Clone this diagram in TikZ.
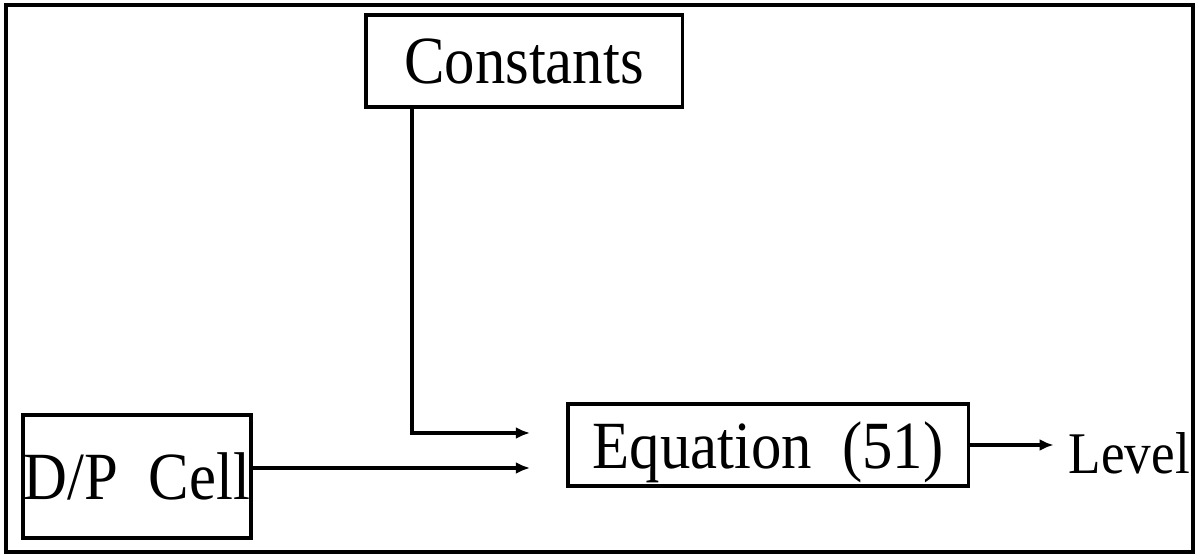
\documentclass[tikz,border=0pt]{standalone}
\usepackage{fontspec}
\setmainfont{Liberation Serif}[FakeStretch=0.9]
\usetikzlibrary{positioning,arrows.meta}

\begin{document}
\begin{tikzpicture}[
    x=0.025cm, y=-0.025cm,
    block/.style={rectangle, draw, line width=2.2pt, inner sep=0pt, font=\fontsize{48}{48}\selectfont},
    arrow/.style={line width=2.8pt, -{Latex[length=10pt,width=8.5pt]}}
]
    \useasboundingbox (0,0) rectangle (1198,556);
    % Frame
    \draw [line width=2.2pt] (6,5) rectangle (1193,552);

    % Blocks
    \node (eqn) [block, text depth=0pt, minimum width=10cm, minimum height=2.05cm] at (768,445) {Equation\ \ (51)};
    \node (consts) [block, minimum width=7.9cm, minimum height=2.3cm] at (524,61) {Constants};
    \node (dpcell) [block, minimum width=5.7cm, minimum height=3.075cm] at (137,476.5) {D/P\ \ Cell};
    \node (level) [right=2.475cm of eqn, inner sep=0pt, yshift=-0.2cm, font=\fontsize{42}{42}\selectfont] {Level};

    % Inputs
    \coordinate (c_in) at (530,433);
    \coordinate (d_in) at (530,468);

    \draw [arrow] ([xshift=-2.8cm]consts.south) |- (c_in);
    \draw [arrow] (dpcell.east |- d_in) -- (d_in);
    \draw [arrow, line width=2.4pt, shorten >=0.375cm] (eqn.east) -- (level.west |- eqn.east);
\end{tikzpicture}
\end{document}
